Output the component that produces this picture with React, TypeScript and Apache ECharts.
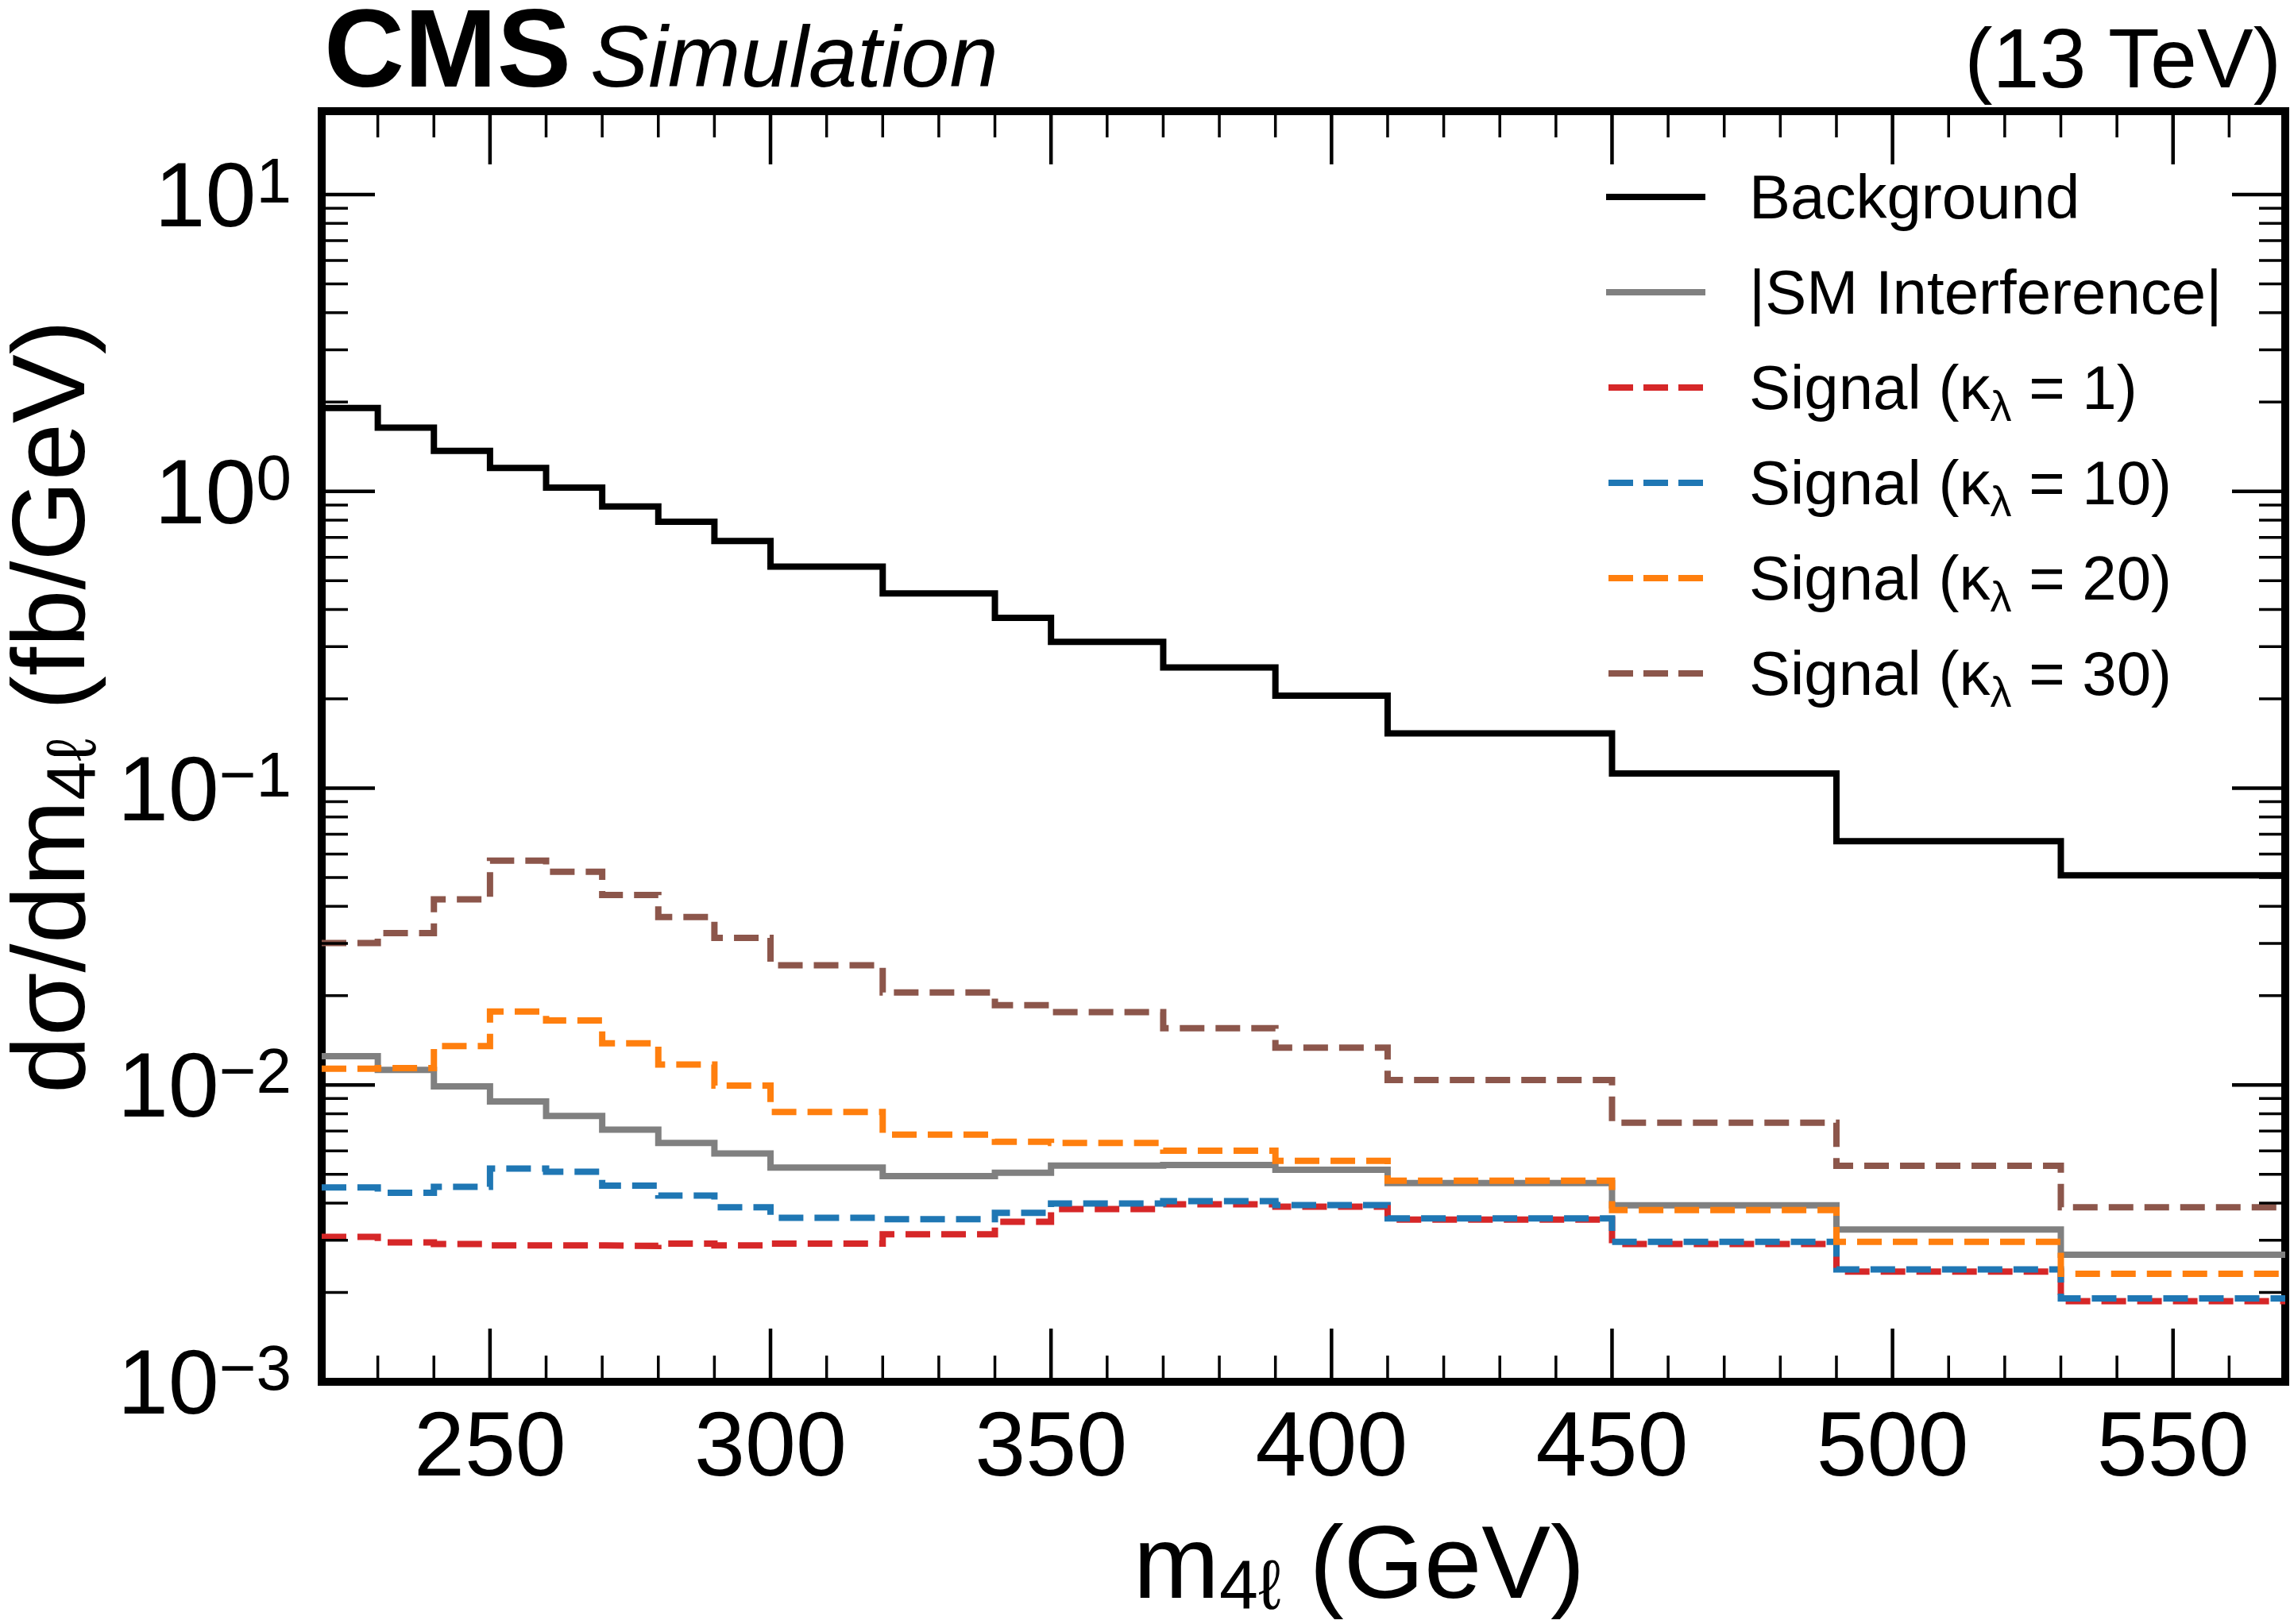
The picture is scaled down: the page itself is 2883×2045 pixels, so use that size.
import React, { useEffect, useRef } from "react";
import * as echarts from "echarts";

// bin edges in GeV
const binEdges = [220, 230, 240, 250, 260, 270, 280, 290, 300, 320, 340, 350, 370, 390, 410, 450, 490, 530, 570];

// dsigma/dm per bin (fb/GeV)
const background = [1.91, 1.64, 1.37, 1.2, 1.03, 0.89, 0.79, 0.68, 0.558, 0.453, 0.375, 0.311, 0.255, 0.205, 0.153, 0.112, 0.0663, 0.0509];
const interference = [0.0125, 0.01125, 0.0099, 0.0088, 0.00787, 0.00707, 0.00638, 0.00588, 0.00527, 0.00493, 0.00506, 0.00535, 0.00538, 0.00518, 0.00467, 0.00393, 0.00326, 0.00268];
const signalK1 = [0.00308, 0.00295, 0.00291, 0.00288, 0.00288, 0.00287, 0.00292, 0.00288, 0.00292, 0.00314, 0.00346, 0.00382, 0.00396, 0.00389, 0.00352, 0.00291, 0.00235, 0.00187];
const signalK10 = [0.00452, 0.00433, 0.00454, 0.00523, 0.0051, 0.00458, 0.00424, 0.00387, 0.00357, 0.00353, 0.00371, 0.00399, 0.00406, 0.00394, 0.00355, 0.00296, 0.00239, 0.00191];
const signalK20 = [0.01134, 0.0114, 0.01352, 0.01767, 0.0165, 0.01383, 0.01172, 0.00995, 0.00811, 0.0068, 0.00644, 0.00638, 0.00601, 0.00555, 0.00476, 0.00379, 0.00296, 0.00231];
const signalK30 = [0.0301, 0.0325, 0.0422, 0.057, 0.0523, 0.0437, 0.0368, 0.0313, 0.0253, 0.0205, 0.01858, 0.0176, 0.01553, 0.01336, 0.0104, 0.00746, 0.00534, 0.00387];

const seriesNames = [
  "Background",
  "|SM Interference|",
  "Signal (κλ = 1)",
  "Signal (κλ = 10)",
  "Signal (κλ = 20)",
  "Signal (κλ = 30)",
];
const seriesValues = [background, interference, signalK1, signalK10, signalK20, signalK30];
const seriesColors = ["#000000", "#808080", "#d62728", "#1f77b4", "#ff7f0e", "#8c564b"];

const xTickLabels = [250, 300, 350, 400, 450, 500, 550];
const yTickExponents = [-3, -2, -1, 0, 1];

const X_MIN = 220;
const X_MAX = 570;
const Y_MIN = 0.001;
const Y_MAX = 19.1;

const FONT = "'Liberation Sans', Arial, Helvetica, sans-serif";
const SOLID_ICON = "path://M0,0H125V8H0Z";
const DASH_ICON = "path://M4,0H35V8H4Z M48,0H79V8H48Z M92,0H123V8H92Z";

// histogram -> step points
const toSteps = (vals: number[]) => [
  ...vals.map((v, i) => [binEdges[i], v]),
  [binEdges[binEdges.length - 1], vals[vals.length - 1]],
];

// tick positions (major = 1)
const xTicks: number[][] = [];
for (let v = X_MIN + 10; v < X_MAX; v += 10) xTicks.push([v, 1, v % 50 === 0 ? 1 : 0]);
const yTicks: number[][] = [];
for (const e of yTickExponents) {
  for (let k = 1; k <= 9; k++) {
    const v = k * Math.pow(10, e);
    if (v < Y_MAX) yTicks.push([X_MIN, v, k === 1 ? 1 : 0]);
  }
}

const legendLabel = (name: string) => {
  if (name.indexOf("κλ") < 0) return `{t|${name}}`;
  const [a, b] = name.split("κλ");
  return `{t|${a}κ}{sub|λ}{t|${b}}`;
};

// subscript pushed down with top padding
const labelRich = {
  m: { fontSize: 130, lineHeight: 116, fontFamily: FONT, fill: "#000" },
  s: { fontSize: 88, lineHeight: 56, padding: [56, 0, 0, 0], fontFamily: FONT, fill: "#000" },
};

const App: React.FC = () => {
  const chartRef = useRef<HTMLDivElement | null>(null);

  useEffect(() => {
    if (!chartRef.current) return;
    const chart = echarts.init(chartRef.current, null, { renderer: "svg" });

    const lineSeries = seriesValues.map((vals, i) => ({
      name: seriesNames[i],
      type: "line",
      step: "end",
      symbol: "none",
      data: toSteps(vals),
      color: seriesColors[i],
      itemStyle: { color: seriesColors[i] },
      lineStyle: {
        color: seriesColors[i],
        width: 8,
        type: i < 2 ? "solid" : [31, 14],
        cap: "butt",
        join: "miter",
      },
      z: 2 + i * 0.01,
    }));

    const tickStyle = (major: boolean) => ({ stroke: "#000", lineWidth: major ? 4.5 : 3.5 });

    const option = {
      animation: false,
      backgroundColor: "#ffffff",
      textStyle: { fontFamily: FONT },
      grid: {
        left: 405,
        top: 140,
        width: 2472,
        height: 1600,
        show: true,
        borderColor: "#000",
        borderWidth: 10,
        backgroundColor: "transparent",
        containLabel: false,
        outerBoundsMode: "none",
      },
      xAxis: {
        type: "value",
        min: X_MIN,
        max: X_MAX,
        interval: 10,
        axisLine: { show: false },
        axisTick: { show: false },
        splitLine: { show: false },
        axisLabel: {
          margin: 20,
          fontSize: 115,
          fontFamily: FONT,
          color: "#000",
          formatter: (v: number) => (xTickLabels.includes(Math.round(v)) ? String(Math.round(v)) : ""),
        },
      },
      yAxis: {
        type: "log",
        logBase: 10,
        min: Y_MIN,
        max: Y_MAX,
        axisLine: { show: false },
        axisTick: { show: false },
        splitLine: { show: false },
        axisLabel: {
          margin: 38,
          color: "#000",
          formatter: (v: number) => {
            const lg = Math.log10(v);
            const e = Math.round(lg);
            if (Math.abs(lg - e) > 0.01 || !yTickExponents.includes(e)) return "";
            return `{b|10}{s|${e < 0 ? "−" + -e : e}}`;
          },
          rich: {
            b: { fontSize: 115, lineHeight: 115, fontFamily: FONT, color: "#000" },
            s: { fontSize: 80, lineHeight: 53, fontFamily: FONT, color: "#000", verticalAlign: "top" },
          },
        },
      },
      legend: {
        show: true,
        orient: "vertical",
        left: 2022,
        top: 198,
        padding: 0,
        itemWidth: 125,
        itemHeight: 8,
        itemGap: 20,
        selectedMode: false,
        data: seriesNames.map((n, i) => ({
          name: n,
          icon: i < 2 ? SOLID_ICON : DASH_ICON,
          itemStyle: { color: seriesColors[i], borderWidth: 0 },
        })),
        formatter: legendLabel,
        textStyle: {
          fontSize: 78,
          lineHeight: 100,
          fontFamily: FONT,
          color: "#000",
          padding: [0, 0, 0, 50],
          rich: {
            t: { fontSize: 78, lineHeight: 100, fontFamily: FONT, color: "#000" },
            sub: { fontSize: 54, lineHeight: 60, fontFamily: FONT, color: "#000", verticalAlign: "bottom" },
          },
        },
      },
      graphic: [
        {
          type: "text",
          x: 408,
          y: 60,
          style: { text: "CMS", fontSize: 140, lineHeight: 116, fontWeight: "bold", fontFamily: FONT, fill: "#000", align: "left", verticalAlign: "middle" },
        },
        {
          type: "text",
          x: 743,
          y: 70,
          style: { text: "Simulation", fontSize: 110, fontStyle: "italic", fontFamily: FONT, fill: "#000", align: "left", verticalAlign: "middle" },
        },
        {
          type: "text",
          x: 2872,
          y: 73,
          style: { text: "(13 TeV)", fontSize: 106, fontFamily: FONT, fill: "#000", align: "right", verticalAlign: "middle" },
        },
        {
          type: "text",
          x: 1711,
          y: 1967,
          style: {
            text: "{m|m}{s|4ℓ}{m| (GeV)}",
            align: "center",
            verticalAlign: "middle",
            fill: "#000",
            rich: labelRich,
          },
        },
        {
          type: "text",
          x: 61,
          y: 890,
          rotation: Math.PI / 2,
          style: {
            text: "{m|dσ/dm}{s|4ℓ}{m| (fb/GeV)}",
            align: "center",
            verticalAlign: "middle",
            fill: "#000",
            rich: labelRich,
          },
        },
      ],
      series: [
        ...lineSeries,
        {
          type: "custom",
          coordinateSystem: "cartesian2d",
          silent: true,
          z: 5,
          clip: false,
          data: xTicks,
          encode: { x: 0, y: 1 },
          renderItem: (params: any, api: any) => {
            const cs = params.coordSys;
            const major = api.value(2) === 1;
            const len = major ? 67 : 33;
            const px = api.coord([api.value(0), 1])[0];
            const bottom = cs.y + cs.height;
            return {
              type: "group",
              children: [
                { type: "line", shape: { x1: px, y1: bottom, x2: px, y2: bottom - len }, style: tickStyle(major) },
                { type: "line", shape: { x1: px, y1: cs.y, x2: px, y2: cs.y + len }, style: tickStyle(major) },
              ],
            };
          },
        },
        {
          type: "custom",
          coordinateSystem: "cartesian2d",
          silent: true,
          z: 5,
          clip: false,
          data: yTicks,
          encode: { x: 0, y: 1 },
          renderItem: (params: any, api: any) => {
            const cs = params.coordSys;
            const major = api.value(2) === 1;
            const len = major ? 67 : 33;
            const py = api.coord([X_MIN, api.value(1)])[1];
            const right = cs.x + cs.width;
            return {
              type: "group",
              children: [
                { type: "line", shape: { x1: cs.x, y1: py, x2: cs.x + len, y2: py }, style: tickStyle(major) },
                { type: "line", shape: { x1: right, y1: py, x2: right - len, y2: py }, style: tickStyle(major) },
              ],
            };
          },
        },
      ],
    };

    chart.setOption(option as any);
    return () => {
      chart.dispose();
    };
  }, []);

  return (
    <div
      ref={chartRef}
      style={{ position: "absolute", left: 0, top: 0, width: "2883px", height: "2045px" }}
    />
  );
};

export default App;
